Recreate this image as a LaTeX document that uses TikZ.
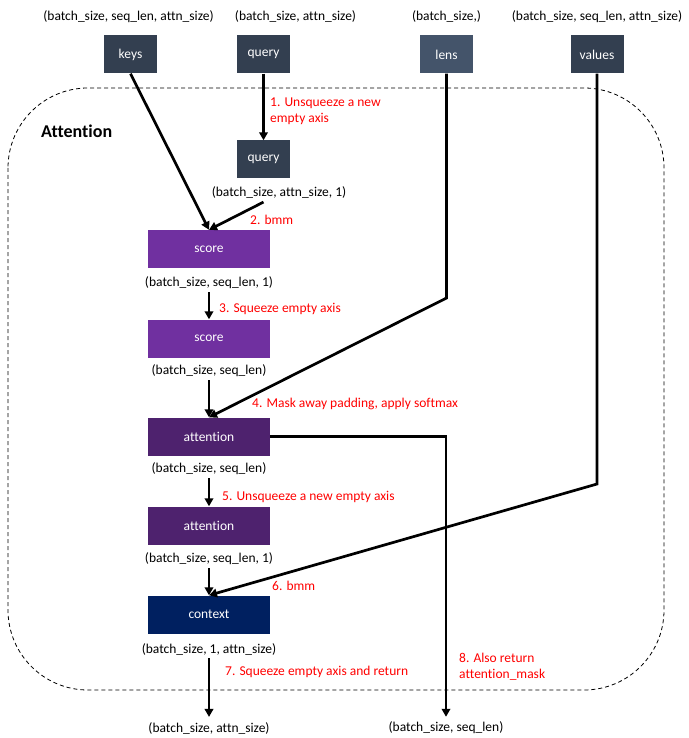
\documentclass[tikz,border=0pt]{standalone}
\usepackage{fontspec}
\setmainfont{Carlito}[Ligatures={NoCommon}]
\usetikzlibrary{arrows.meta,calc}
\definecolor{slate}{HTML}{333F50}
\definecolor{slatelight}{HTML}{44546A}
\definecolor{purp}{HTML}{7030A0}
\definecolor{dpurp}{HTML}{4E226E}
\definecolor{navy}{HTML}{002060}
\begin{document}
\begin{tikzpicture}[x=1pt,y=-1pt,
  sbox/.style={fill=#1, text=white, minimum width=53pt, minimum height=38pt, inner sep=0pt, font=\fontsize{13.5}{15}\selectfont},
  wbox/.style={fill=#1, text=white, minimum width=122pt, minimum height=38pt, inner sep=0pt, font=\fontsize{13.5}{15}\selectfont},
  dim/.style={font=\fontsize{13.5}{15}\selectfont, inner sep=0pt},
  note/.style={text=red, align=left, anchor=west, inner sep=0pt, font=\fontsize{13.5}{16}\selectfont},
  arr/.style={line width=2.7pt, -{Triangle[length=8pt,width=8.5pt]}}]
\useasboundingbox (0,0) rectangle (688,738);
\draw[line width=0.8pt, dash pattern=on 4pt off 3pt, rounded corners=80pt] (8,88) rectangle (664,690);
\node[anchor=west, inner sep=0pt, font=\fontsize{18}{20}\selectfont\bfseries] (title) at (41,131) {Attention};
% top labels
\node[dim] (d1) at (128.5,17) {(batch\_size, seq\_len, attn\_size)};
\node[dim] (d2) at (295.5,17) {(batch\_size, attn\_size)};
\node[dim] (d3) at (446.5,17) {(batch\_size,)};
\node[dim] (d4) at (597,17) {(batch\_size, seq\_len, attn\_size)};
% top boxes
\node[sbox=slate] (keys) at (130.5,54.5) {keys};
\node[sbox=slate] (query) at (263.5,54.5) {query};
\node[sbox=slatelight] (lens) at (446.5,54.5) {lens};
\node[sbox=slate] (values) at (597,54.5) {values};
% inner
\node[sbox=slate] (query2) at (263.5,159.5) {query};
\node[dim] (qdim) at (279,192) {(batch\_size, attn\_size, 1)};
\node[wbox=purp] (score) at (209,249) {score};
\node[dim] (sdim) at (209,283) {(batch\_size, seq\_len, 1)};
\node[wbox=purp] (score2) at (209,338.5) {score};
\node[dim] (s2dim) at (209,371) {(batch\_size, seq\_len)};
\node[wbox=dpurp] (attn) at (209,436.5) {attention};
\node[dim] (adim) at (209,469) {(batch\_size, seq\_len)};
\node[wbox=dpurp] (attn2) at (209,525.5) {attention};
\node[dim] (a2dim) at (209,559) {(batch\_size, seq\_len, 1)};
\node[wbox=navy] (context) at (209,614.5) {context};
\node[dim] (cdim) at (209,649) {(batch\_size, 1, attn\_size)};
\node[dim] (out1) at (209,728) {(batch\_size, attn\_size)};
\node[dim] (out2) at (446,728) {(batch\_size, seq\_len)};
% notes
\node[note] (n1) at (270,111) {1. Unsqueeze a new\\empty axis};
\node[note] (n2) at (250,220) {2. bmm};
\node[note] (n3) at (219,309) {3. Squeeze empty axis};
\node[note] (n4) at (252,404) {4. Mask away padding, apply softmax};
\node[note] (n5) at (222,497) {5. Unsqueeze a new empty axis};
\node[note] (n6) at (272,586) {6. bmm};
\node[note] (n7) at (225,672) {7. Squeeze empty axis and return};
\node[note] (n8) at (459,666.5) {8. Also return\\attention\_mask};
% bend points
\coordinate (lensbend) at (446.5,298);
\coordinate (maskbend) at (446,436.5);
\coordinate (valbend) at (597,484);
% connectors
\draw[arr] (query.south) -- (query2.north);
\draw[arr] (keys.south) -- (score.north);
\draw[arr] ($(query2.south |- qdim.south)+(0,4)$) -- (score.north);
\draw[arr] ($(sdim.south)+(0,3)$) -- (score2.north);
\draw[arr] ($(s2dim.south)+(0,3)$) -- (attn.north);
\draw[arr] (lens.south) -- (lensbend) -- (attn.north);
\draw[arr] ($(adim.south)+(0,3)$) -- (attn2.north);
\draw[arr] ($(a2dim.south)+(0,3)$) -- (context.north);
\draw[arr] (values.south) -- (valbend) -- (context.north);
\draw[arr] ($(cdim.south)+(0,3)$) -- ($(out1.north)+(0,-5)$);
\draw[arr] (attn.east) -- (maskbend) -- ($(out2.north)+(0,-5)$);
\end{tikzpicture}
\end{document}
